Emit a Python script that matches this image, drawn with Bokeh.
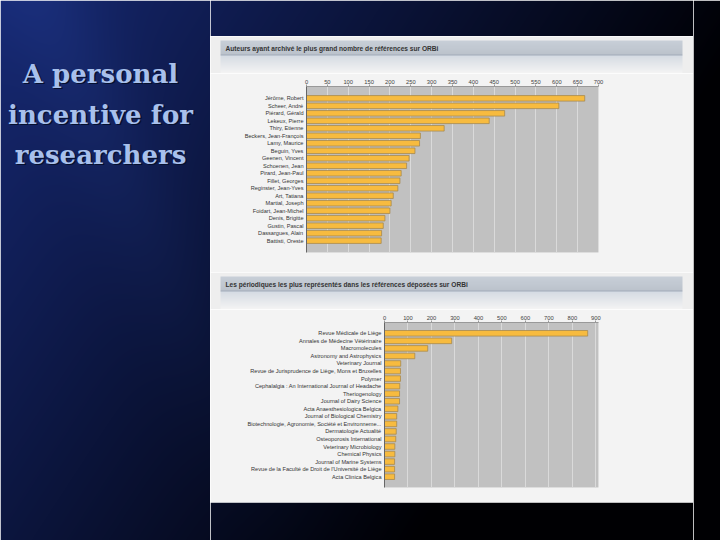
import numpy as np
from bokeh.plotting import figure
from bokeh.layouts import row, column
from bokeh.models import FactorRange, Range1d, FixedTicker, ColumnDataSource
from bokeh.core.properties import value
from bokeh.embed import file_html
from bokeh.resources import INLINE

# ---------------- data ----------------
slide_title = ["A personal", "incentive for", "researchers"]

chart1_title = "Auteurs ayant archivé le plus grand nombre de références sur ORBi"
authors = ["Jérôme, Robert", "Scheer, André", "Piérard, Gérald", "Lekeux, Pierre",
           "Thiry, Etienne", "Beckers, Jean-François", "Lamy, Maurice", "Beguin, Yves",
           "Geenen, Vincent", "Schoenen, Jean", "Pirard, Jean-Paul", "Fillet, Georges",
           "Reginster, Jean-Yves", "Art, Tatiana", "Martial, Joseph", "Foidart, Jean-Michel",
           "Denis, Brigitte", "Gustin, Pascal", "Dassargues, Alain", "Battisti, Oreste"]
author_counts = [667, 605, 475, 438, 330, 273, 271, 260, 246, 240,
                 227, 224, 219, 208, 203, 200, 188, 184, 180, 179]
author_ticks = [0, 50, 100, 150, 200, 250, 300, 350, 400, 450, 500, 550, 600, 650, 700]

chart2_title = "Les périodiques les plus représentés dans les références déposées sur ORBi"
journals = ["Revue Médicale de Liège", "Annales de Médecine Vétérinaire", "Macromolecules",
            "Astronomy and Astrophysics", "Veterinary Journal",
            "Revue de Jurisprudence de Liège, Mons et Bruxelles", "Polymer",
            "Cephalalgia : An International Journal of Headache", "Theriogenology",
            "Journal of Dairy Science", "Acta Anaesthesiologica Belgica",
            "Journal of Biological Chemistry",
            "Biotechnologie, Agronomie, Société et Environneme...",
            "Dermatologie Actualité", "Osteoporosis International", "Veterinary Microbiology",
            "Chemical Physics", "Journal of Marine Systems",
            "Revue de la Faculté de Droit de l'Université de Liège", "Acta Clinica Belgica"]
journal_counts = [865, 286, 184, 129, 69, 68, 68, 65, 64, 64,
                  57, 52, 52, 50, 48, 44, 44, 43, 43, 43]
journal_ticks = [0, 100, 200, 300, 400, 500, 600, 700, 800, 900]

# ---------------- styling helpers ----------------
PANEL = "#f3f3f3"


def to_img(rgb):
    h, w, _ = rgb.shape
    rgba = np.empty((h, w, 4), dtype=np.uint8)
    rgba[..., :3] = np.clip(rgb, 0, 255).astype(np.uint8)
    rgba[..., 3] = 255
    return rgba.view(dtype=np.uint32).reshape(h, w)[::-1].copy()


def bg_rgb(x0, y0, w, h):
    xs = x0 + np.arange(w) + 0.5
    ys = y0 + np.arange(h) + 0.5
    X, Y = np.meshgrid(xs, ys)
    t = np.clip(1.0 - 0.0013 * X - 0.00085 * Y, 0, 1)
    u = X - 0.45 * Y - 40
    band = 0.16 * np.exp(-(u / 55.0) ** 2) * np.clip(1 - Y / 560.0, 0, 1)
    rgb = np.zeros((h, w, 3))
    rgb[..., 0] = 22 * t + 30 * band
    rgb[..., 1] = 40 * t + 50 * band
    rgb[..., 2] = 3 + 110 * t + 90 * band
    return rgb


def blank_fig(w, h):
    f = figure(width=w, height=h, x_range=Range1d(0, w), y_range=Range1d(0, h),
               x_axis_type=None, y_axis_type=None, toolbar_location=None,
               output_backend="svg", min_border=0)
    f.grid.visible = False
    f.outline_line_color = None
    f.background_fill_color = None
    f.border_fill_color = None
    return f


def bg_fig(x0, y0, w, h):
    f = blank_fig(w, h)
    f.image_rgba(image=[to_img(bg_rgb(x0, y0, w, h))], x=0, y=0, dw=w, dh=h)
    return f


def header_fig(w, h, title):
    f = blank_fig(w, h)
    rgb = np.zeros((h, w, 3))
    rgb[:, :] = [238, 238, 238]
    rgb[4:, 10:w - 11] = [244, 244, 244]
    for j in range(4, 19):
        k = (j - 4) / 14.0
        rgb[j, 10:w - 11] = [200 - 12 * k, 207 - 12 * k, 216 - 12 * k]
    rgb[18, 10:w - 11] = [160, 170, 184]
    for j in range(19, h):
        k = (j - 19) / max(1, (h - 20))
        rgb[j, 10:w - 11] = [214 + 30 * k, 220 + 24 * k, 228 + 16 * k]
    f.image_rgba(image=[to_img(rgb)], x=0, y=0, dw=w, dh=h)
    f.text(x=[15], y=[h - 11.5], text=[title], text_baseline="middle", text_align="left",
           text_font=value("Liberation Sans"), text_font_style="bold",
           text_font_size="6.6px", text_color="#333333")
    return f


def bar_chart(names, counts, ticks, xmax, h, top, bottom, left, right, pad, label_size):
    src = ColumnDataSource(dict(name=names, count=counts))
    yr = FactorRange(factors=names[::-1], range_padding=pad, range_padding_units="absolute")
    p = figure(width=483, height=h, y_range=yr, x_range=Range1d(0, xmax),
               x_axis_location="above", toolbar_location=None, output_backend="svg",
               min_border_left=left, min_border_right=right,
               min_border_top=top, min_border_bottom=bottom)
    p.hbar(y="name", left=0, right="count", height=0.74, source=src,
           fill_color="#f7bb3f", line_color="#a88a4e", line_width=0.8)
    p.background_fill_color = "#c1c1c1"
    p.border_fill_color = PANEL
    p.outline_line_color = None
    p.xaxis.ticker = FixedTicker(ticks=ticks)
    p.xgrid.ticker = FixedTicker(ticks=ticks)
    p.xgrid.grid_line_color = "#dadada"
    p.xgrid.grid_line_width = 1
    p.ygrid.visible = False
    p.xaxis.minor_tick_line_color = None
    p.xaxis.major_tick_in = 0
    p.xaxis.major_tick_out = 2
    p.xaxis.major_tick_line_color = "#999999"
    p.xaxis.axis_line_color = "#999999"
    p.xaxis.major_label_standoff = 1
    p.xaxis.major_label_text_font = "Liberation Sans"
    p.xaxis.major_label_text_font_size = "5.8px"
    p.xaxis.major_label_text_color = "#444444"
    p.yaxis.major_tick_in = 0
    p.yaxis.major_tick_out = 0
    p.yaxis.axis_line_color = "#666666"
    p.yaxis.major_label_standoff = 3
    p.yaxis.major_label_text_font = "Liberation Sans"
    p.yaxis.major_label_text_font_size = label_size
    p.yaxis.major_label_text_color = "#333333"
    return p


# ---------------- left column ----------------
left = bg_fig(0, 0, 210, 540)
ty = [540 - 73, 540 - 114, 540 - 154]
left.text(x=[101.5] * 3, y=[v - 1.5 for v in ty], text=slide_title, text_align="center",
          text_baseline="alphabetic", text_font=value("DejaVu Serif"),
          text_font_style="bold", text_font_size="26px", text_color="#06102e")
left.text(x=[100] * 3, y=ty, text=slide_title, text_align="center",
          text_baseline="alphabetic", text_font=value("DejaVu Serif"),
          text_font_style="bold", text_font_size="26px", text_color="#a8c0ec")

# ---------------- middle column ----------------
top_strip = bg_fig(210, 0, 483, 36)
h1 = header_fig(483, 37, chart1_title)
c1 = bar_chart(authors, author_counts, author_ticks, 700, 199, 13, 20, 96, 95, 1.08, "5.6px")
h2 = header_fig(483, 37, chart2_title)
c2 = bar_chart(journals, journal_counts, journal_ticks, 911, 193, 13, 15, 174, 95, 0.93, "5.6px")
bottom_strip = bg_fig(210, 502, 483, 38)
middle = column(row(top_strip), row(h1), row(c1), row(h2), row(c2), row(bottom_strip), spacing=0)

right = bg_fig(693, 0, 27, 540)

p = row(left, middle, right, spacing=0)

open("out.html", "w").write(file_html(p, INLINE))
